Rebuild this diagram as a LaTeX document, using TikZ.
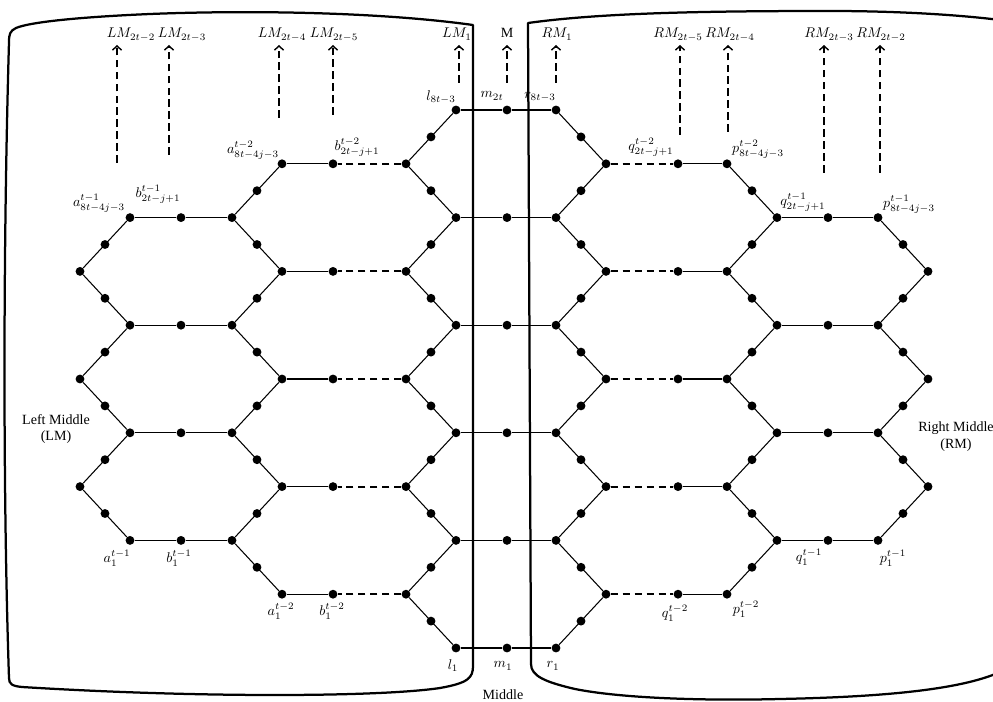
\documentclass[tikz,border=0pt]{standalone}
\usepackage{fontspec}
\setmainfont{Liberation Serif}
\usetikzlibrary{arrows.meta}
\begin{document}
\begin{tikzpicture}[x=0.025cm,y=-0.025cm,
  dot/.style={circle,fill=black,inner sep=0pt,minimum size=6.3pt},
  edge/.style={line width=0.75pt},
  dedge/.style={line width=1.3pt,dash pattern=on 5.5pt off 3pt},
  uparr/.style={line width=1.3pt,dash pattern=on 5.5pt off 3pt,-{Straight Barb[length=3pt,width=6.5pt,line width=1pt]}},
  panel/.style={line width=1.6pt,line join=round},
  lab/.style={inner sep=0pt},
  txt/.style={inner sep=0pt,align=center}
]
\useasboundingbox (0,0) rectangle (993,702);
\clip (0,0) rectangle (993,702);

% panels
\draw[panel] (473,25) .. controls (380,12) and (250,10) .. (150,14)
  .. controls (80,17) and (30,22) .. (16,28)
  .. controls (10,31) and (9,34) .. (9,42)
  .. controls (3,250) and (3,500) .. (9,678)
  .. controls (9,684) and (12,686) .. (22,687)
  .. controls (200,698) and (380,697) .. (440,688)
  .. controls (468,683) and (473,678) .. (473,666) -- cycle;
\draw[panel] (1000,20) .. controls (960,15) and (900,11) .. (830,11)
  .. controls (700,11) and (600,13) .. (528,23) -- (531,664)
  .. controls (531,676) and (545,682) .. (575,689)
  .. controls (620,698) and (700,701) .. (780,699)
  .. controls (880,697) and (960,690) .. (1000,672);

% lattice nodes
\foreach \k in {0,2,...,10} {
  \pgfmathsetmacro\yy{648-53.8*\k}
  \node[dot] (l\k) at (456,\yy) {};
  \node[dot] (m\k) at (507,\yy) {};
  \node[dot] (r\k) at (556,\yy) {};
}
\foreach \k in {1,3,...,9} {
  \pgfmathsetmacro\yy{648-53.8*\k}
  \node[dot] (Lj\k) at (406,\yy) {};
  \node[dot] (Lb\k) at (333,\yy) {};
  \node[dot] (La\k) at (282,\yy) {};
  \node[dot] (Rj\k) at (606,\yy) {};
  \node[dot] (Rq\k) at (678,\yy) {};
  \node[dot] (Rp\k) at (727,\yy) {};
}
\foreach \k in {2,4,6,8} {
  \pgfmathsetmacro\yy{648-53.8*\k}
  \node[dot] (Lc\k) at (232,\yy) {};
  \node[dot] (Ld\k) at (181,\yy) {};
  \node[dot] (Le\k) at (130,\yy) {};
  \node[dot] (Rc\k) at (777,\yy) {};
  \node[dot] (Rd\k) at (828,\yy) {};
  \node[dot] (Re\k) at (878,\yy) {};
}
\foreach \k in {3,5,7} {
  \pgfmathsetmacro\yy{648-53.8*\k}
  \node[dot] (Lf\k) at (80,\yy) {};
  \node[dot] (Rf\k) at (928,\yy) {};
}

% edges
\foreach \k in {0,2,...,10} {
  \draw[edge] (l\k) -- (m\k) -- (r\k);
}
\foreach \a/\b in {0/1,2/1,2/3,4/3,4/5,6/5,6/7,8/7,8/9,10/9} {
  \draw[edge] (l\a) -- node[dot] (Lm\a\b) {} (Lj\b);
  \draw[edge] (r\a) -- node[dot] (Rm\a\b) {} (Rj\b);
}
\foreach \k in {1,3,...,9} {
  \draw[dedge] (Lj\k) -- (Lb\k);
  \draw[edge] (Lb\k) -- (La\k);
  \draw[dedge] (Rj\k) -- (Rq\k);
  \draw[edge] (Rq\k) -- (Rp\k);
}
\foreach \a/\b in {2/1,2/3,4/3,4/5,6/5,6/7,8/7,8/9} {
  \draw[edge] (Lc\a) -- node[dot] (Ln\a\b) {} (La\b);
  \draw[edge] (Rc\a) -- node[dot] (Rn\a\b) {} (Rp\b);
}
\foreach \k in {2,4,6,8} {
  \draw[edge] (Lc\k) -- (Ld\k) -- (Le\k);
  \draw[edge] (Rc\k) -- (Rd\k) -- (Re\k);
}
\foreach \a/\b in {2/3,4/3,4/5,6/5,6/7,8/7} {
  \draw[edge] (Le\a) -- node[dot] (Lo\a\b) {} (Lf\b);
  \draw[edge] (Re\a) -- node[dot] (Ro\a\b) {} (Rf\b);
}

% top labels
\node[lab,anchor=base] (tLMa) at (131,38) {$LM_{2t-2}$};
\node[lab,anchor=base] (tLMb) at (182,38) {$LM_{2t-3}$};
\node[lab,anchor=base] (tLMc) at (282,38) {$LM_{2t-4}$};
\node[lab,anchor=base] (tLMd) at (334,38) {$LM_{2t-5}$};
\node[lab,anchor=base] (tLMe) at (457,38) {$LM_1$};
\node[lab,anchor=base] (tM) at (507,38) {M};
\node[lab,anchor=base] (tRMe) at (557,38) {$RM_1$};
\node[lab,anchor=base] (tRMd) at (678,38) {$RM_{2t-5}$};
\node[lab,anchor=base] (tRMc) at (730,38) {$RM_{2t-4}$};
\node[lab,anchor=base] (tRMb) at (829,38) {$RM_{2t-3}$};
\node[lab,anchor=base] (tRMa) at (881,38) {$RM_{2t-2}$};

% top arrows
\foreach \n/\x/\y in {1/117/163,2/169/155,3/279/118,4/333/115,5/459/83,6/507/83,7/556/83,8/680/135,9/728/132,10/824/173,11/880/173} {
  \coordinate (as\n) at (\x,\y);
  \coordinate (at\n) at (\x,45);
  \draw[uparr] (as\n) -- (at\n);
}

% node labels
\node[lab] (ll) at (441,97) {$l_{8t-3}$};
\node[lab] (lm) at (492,96) {$m_{2t}$};
\node[lab] (lr) at (540,97) {$r_{8t-3}$};
\node[lab] (ll1) at (453,666) {$l_1$};
\node[lab] (lm1) at (503,666) {$m_1$};
\node[lab] (lr1) at (553,666) {$r_1$};
\node[txt] (middle) at (503,695) {Middle};

\node[lab] (la1) at (117,558) {$a_1^{t-1}$};
\node[lab] (lb1) at (179,558) {$b_1^{t-1}$};
\node[lab] (la2) at (281,611) {$a_1^{t-2}$};
\node[lab] (lb2) at (332,611) {$b_1^{t-2}$};
\node[lab] (la3) at (253,150) {$a_{8t-4j-3}^{t-2}$};
\node[lab] (lb3) at (357,147) {$b_{2t-j+1}^{t-2}$};
\node[lab] (la4) at (99,203) {$a_{8t-4j-3}^{t-1}$};
\node[lab] (lb4) at (158,194) {$b_{2t-j+1}^{t-1}$};
\node[txt] (leftmid) at (56,429) {Left Middle\\(LM)};

\node[lab] (rq3) at (651,147) {$q_{2t-j+1}^{t-2}$};
\node[lab] (rp3) at (758,149) {$p_{8t-4j-3}^{t-2}$};
\node[lab] (rq4) at (803,202) {$q_{2t-j+1}^{t-1}$};
\node[lab] (rp4) at (909,204) {$p_{8t-4j-3}^{t-1}$};
\node[lab] (rq2) at (675,613) {$q_1^{t-2}$};
\node[lab] (rp2) at (746,609) {$p_1^{t-2}$};
\node[lab] (rq1) at (809,557) {$q_1^{t-1}$};
\node[lab] (rp1) at (893,558) {$p_1^{t-1}$};
\node[txt] (rightmid) at (956,437) {Right Middle\\(RM)};
\end{tikzpicture}
\end{document}
